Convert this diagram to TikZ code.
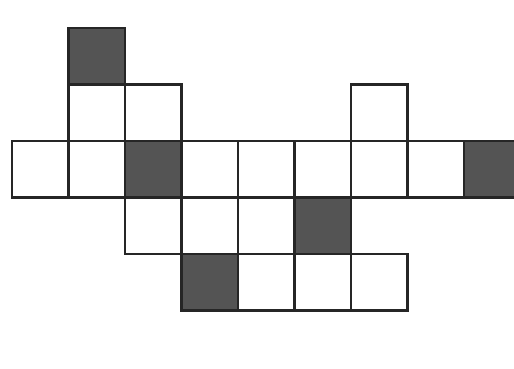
\documentclass[tikz,border=0pt]{standalone}
\tikzset{
    cell/.style = {draw=black!85, line width=1.1pt, fill=white},
    darkcell/.style = {draw=black!85, line width=1.1pt, fill=black!67},
}
\begin{document}
\begin{tikzpicture}
\useasboundingbox (-0.212,-6.018) rectangle (8.885,0.496);
\clip (-0.212,-6.018) rectangle (8.885,0.496);

% top row
\draw[darkcell] (1,0) rectangle (2,-1);

% second row
\draw[cell] (1,-1) rectangle (2,-2);
\draw[cell] (2,-1) rectangle (3,-2);
\draw[cell] (6,-1) rectangle (7,-2);

% long row
\draw[cell] (0,-2) rectangle (1,-3);
\draw[cell] (1,-2) rectangle (2,-3);
\draw[darkcell] (2,-2) rectangle (3,-3);
\draw[cell] (3,-2) rectangle (4,-3);
\draw[cell] (4,-2) rectangle (5,-3);
\draw[cell] (5,-2) rectangle (6,-3);
\draw[cell] (6,-2) rectangle (7,-3);
\draw[cell] (7,-2) rectangle (8,-3);
\draw[darkcell] (8,-2) rectangle (9,-3);

% fourth row
\draw[cell] (2,-3) rectangle (3,-4);
\draw[cell] (3,-3) rectangle (4,-4);
\draw[cell] (4,-3) rectangle (5,-4);
\draw[darkcell] (5,-3) rectangle (6,-4);

% bottom row
\draw[darkcell] (3,-4) rectangle (4,-5);
\draw[cell] (4,-4) rectangle (5,-5);
\draw[cell] (5,-4) rectangle (6,-5);
\draw[cell] (6,-4) rectangle (7,-5);
\end{tikzpicture}
\end{document}
